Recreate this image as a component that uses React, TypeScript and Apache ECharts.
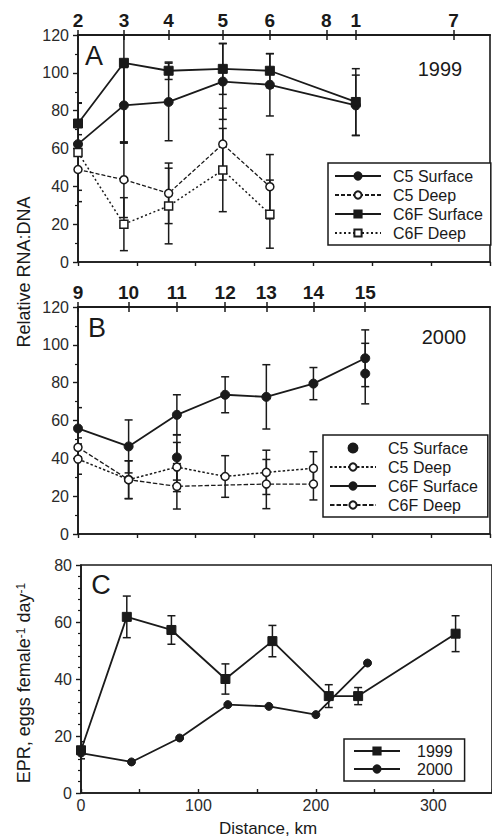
import React, { useEffect, useRef } from 'react';
import * as echarts from 'echarts';

// ---------- stations (top axis labels) ----------
const dist1999 = [0, 39, 77, 123, 163, 211, 236, 319];
const stations1999 = ['2', '3', '4', '5', '6', '8', '1', '7'];
const dist2000 = [0, 43, 84, 125, 160, 200, 244];
const stations2000 = ['9', '10', '11', '12', '13', '14', '15'];

// ---------- Panel A (1999 RNA:DNA) ----------
const aSurfDist = [0, 39, 77, 123, 163, 236];
const aC5Surface = [62.3, 82.8, 84.6, 95.4, 93.7, 82.8];
const aC5SurfaceErr = [5, 20, 20.5, 20, 16.5, 16];
const aC6FSurface = [73.2, 105.3, 101.1, 102.1, 101.1, 84.6];
const aC6FSurfaceErr = [11, 42, 4.6, 13.5, 9, 17.6];
const aDeepDist = [0, 39, 77, 123, 163];
const aC5Deep = [48.9, 43.5, 36.3, 62.3, 39.8];
const aC5DeepErr = [11, 20, 16, 19, 17];
const aC6FDeep = [57.9, 20, 29.6, 48.6, 25.3];
const aC6FDeepErr = [26, 14, 20, 22, 18];

// ---------- Panel B (2000 RNA:DNA) ----------
const bC5SurfaceDist = [84, 244];
const bC5Surface = [40.5, 84.8];
const bC5SurfaceErr = [12, 16];
const bC5DeepDist = [0, 43, 84, 125, 160, 200];
const bC5Deep = [39.6, 28.7, 35.4, 30.4, 32.6, 34.7];
const bC5DeepErr = [8, 10, 13, 11, 11.7, 8.8];
const bC6FSurfaceDist = [0, 43, 84, 125, 160, 200, 244];
const bC6FSurface = [55.8, 46.3, 63, 73.6, 72.5, 79.5, 92.9];
const bC6FSurfaceErr = [11, 14, 10.6, 9.5, 17, 8.5, 15];
const bC6FDeepDist = [0, 43, 84, 160, 200];
const bC6FDeep = [45.8, 28.7, 25.2, 26.4, 26.4];
const bC6FDeepErr = [5, 10, 12, 13, 8.4];

// ---------- Panel C (EPR) ----------
const epr1999 = [15, 61.8, 57.2, 40, 53.3, 34, 34, 55.9];
const epr1999Err = [3, 7.3, 5, 5.3, 5.5, 4, 3, 6.3];
const epr2000 = [14, 10.9, 19.3, 31, 30.4, 27.5, 45.6];

// ---------- tick labels ----------
const rnaTicks = [0, 20, 40, 60, 80, 100, 120];
const eprTicks = [0, 20, 40, 60, 80];
const distLabels = [0, 100, 200, 300];
const distTicks = [0, 50, 100, 150, 200, 250, 300, 350];

const INK = '#1a1a1a';
const FONT = '"Liberation Sans", Arial, Helvetica, sans-serif';

const pairs = (xs: number[], ys: number[]) => xs.map((x, i) => [x, ys[i]]);
const errs = (xs: number[], ys: number[], es: number[]) =>
  xs.map((x, i) => [x, ys[i] - es[i], ys[i] + es[i]]);

function errRender(params: any, api: any) {
  const x = api.value(0);
  const lo = api.value(1);
  const hi = api.value(2);
  const a = api.coord([x, hi]);
  const b = api.coord([x, lo]);
  const w = 4;
  const style = { stroke: INK, lineWidth: 1.5, fill: 'none' };
  return {
    type: 'group',
    children: [
      { type: 'line', shape: { x1: a[0], y1: a[1], x2: b[0], y2: b[1] }, style },
      { type: 'line', shape: { x1: a[0] - w, y1: a[1], x2: a[0] + w, y2: a[1] }, style },
      { type: 'line', shape: { x1: b[0] - w, y1: b[1], x2: b[0] + w, y2: b[1] }, style },
    ],
  };
}

const axisLineStyle = { lineStyle: { color: INK, width: 1.6 } };
const labelStyle = { color: '#2a2a2a', fontSize: 16, fontFamily: FONT };

function bottomAxis(gridIndex: number, showLabels: boolean) {
  return {
    type: 'value',
    gridIndex,
    position: 'bottom',
    min: 0,
    max: 350,
    axisLine: { show: true, onZero: false, ...axisLineStyle },
    axisTick: {
      show: true,
      inside: showLabels,
      length: 4,
      customValues: distTicks,
      lineStyle: { color: INK, width: 1.4 },
    },
    axisLabel: showLabels
      ? { show: true, customValues: distLabels, margin: 4, ...labelStyle }
      : { show: false },
    splitLine: { show: false },
  };
}

function topAxis(gridIndex: number, dists: number[], names: string[], inside: boolean) {
  return {
    type: 'value',
    gridIndex,
    position: 'top',
    min: 0,
    max: 350,
    axisLine: { show: true, onZero: false, ...axisLineStyle },
    axisTick: {
      show: true,
      inside,
      length: 5,
      customValues: dists,
      lineStyle: { color: INK, width: 1.5 },
    },
    axisLabel: inside
      ? { show: false }
      : {
          show: true,
          customValues: dists,
          margin: 5,
          fontSize: 19,
          fontWeight: 'bold',
          color: INK,
          fontFamily: FONT,
          formatter: (v: number) => {
            const i = dists.indexOf(v);
            return i >= 0 ? names[i] : '';
          },
        },
    splitLine: { show: false },
  };
}

function yAxis(gridIndex: number, max: number, ticks: number[], minorSplit: number) {
  return {
    type: 'value',
    gridIndex,
    min: 0,
    max,
    interval: 20,
    axisLine: { show: true, onZero: false, ...axisLineStyle },
    axisTick: { show: true, inside: false, length: 5, lineStyle: { color: INK, width: 1.4 } },
    minorTick: { show: true, splitNumber: minorSplit, length: 3, lineStyle: { color: INK, width: 1.2 } },
    axisLabel: {
      show: true,
      margin: 9,
      ...labelStyle,
      formatter: (v: number) => (ticks.indexOf(v) >= 0 ? String(v) : ''),
    },
    splitLine: { show: false },
    minorSplitLine: { show: false },
  };
}

const filled = { color: INK, borderColor: INK, borderWidth: 1, opacity: 1 };
const open = { color: '#ffffff', borderColor: INK, borderWidth: 1.5, opacity: 1 };

function lineS(name: string, xi: number, yi: number, data: number[][], symbol: string, size: number, item: any, lineType: any, width = 1.8) {
  return {
    type: 'line',
    name,
    xAxisIndex: xi,
    yAxisIndex: yi,
    data,
    symbol,
    symbolSize: size,
    showSymbol: true,
    itemStyle: item,
    lineStyle: { color: INK, width, type: lineType },
    z: 3,
    clip: true,
  };
}

function errS(xi: number, yi: number, data: number[][]) {
  return {
    type: 'custom',
    xAxisIndex: xi,
    yAxisIndex: yi,
    data,
    renderItem: errRender,
    clip: true,
    silent: true,
    z: 2,
  };
}

const stripName = (n: string) => n.split(':')[1];

const legendBase = {
  orient: 'vertical',
  align: 'left',
  backgroundColor: '#ffffff',
  borderColor: INK,
  borderWidth: 1.5,
  borderRadius: 0,
  itemWidth: 46,
  itemHeight: 9,
  selectedMode: false,
  formatter: stripName,
  textStyle: { color: INK, fontSize: 16, fontFamily: FONT, padding: [0, 0, 0, 7] },
};

const option: any = {
  animation: false,
  backgroundColor: '#ffffff',
  grid: [
    { left: 78, top: 35, right: 2, height: 227, show: true, borderColor: INK, borderWidth: 1.6, backgroundColor: 'transparent' },
    { left: 78, top: 307, right: 2, height: 227, show: true, borderColor: INK, borderWidth: 1.6, backgroundColor: 'transparent' },
    { left: 81, top: 565, right: 0, height: 228, show: true, borderColor: INK, borderWidth: 1.6, backgroundColor: 'transparent' },
  ],
  xAxis: [
    bottomAxis(0, false),
    topAxis(0, dist1999, stations1999, false),
    topAxis(0, dist1999, stations1999, true),
    bottomAxis(1, false),
    topAxis(1, dist2000, stations2000, false),
    topAxis(1, dist2000, stations2000, true),
    bottomAxis(2, true),
  ],
  yAxis: [yAxis(0, 120, rnaTicks, 2), yAxis(1, 120, rnaTicks, 2), yAxis(2, 80, eprTicks, 5)],
  legend: [
    {
      ...legendBase,
      left: 328,
      top: 163,
      padding: [5, 8, 4, 6],
      itemGap: 3,
      data: ['A:C5 Surface', 'A:C5 Deep', 'A:C6F Surface', 'A:C6F Deep'],
    },
    {
      ...legendBase,
      left: 323,
      top: 435,
      padding: [5, 10, 4, 6],
      itemGap: 3,
      data: ['B:C5 Surface', 'B:C5 Deep', 'B:C6F Surface', 'B:C6F Deep'],
    },
    {
      ...legendBase,
      left: 344,
      top: 739,
      padding: [4, 12, 4, 9],
      itemGap: 2,
      textStyle: { ...legendBase.textStyle, padding: [0, 0, 0, 12] },
      data: ['C:1999', 'C:2000'],
    },
  ],
  series: [
    // Panel A
    errS(0, 0, [
      ...errs(aSurfDist, aC5Surface, aC5SurfaceErr),
      ...errs(aSurfDist, aC6FSurface, aC6FSurfaceErr),
      ...errs(aDeepDist, aC5Deep, aC5DeepErr),
      ...errs(aDeepDist, aC6FDeep, aC6FDeepErr),
    ]),
    lineS('A:C5 Surface', 0, 0, pairs(aSurfDist, aC5Surface), 'circle', 9, filled, 'solid'),
    lineS('A:C5 Deep', 0, 0, pairs(aDeepDist, aC5Deep), 'circle', 8, open, [4, 2], 1.3),
    lineS('A:C6F Surface', 0, 0, pairs(aSurfDist, aC6FSurface), 'rect', 9, filled, 'solid'),
    lineS('A:C6F Deep', 0, 0, pairs(aDeepDist, aC6FDeep), 'rect', 8, open, [2, 2.5], 1.5),
    // Panel B
    errS(3, 1, [
      ...errs(bC5SurfaceDist, bC5Surface, bC5SurfaceErr),
      ...errs(bC5DeepDist, bC5Deep, bC5DeepErr),
      ...errs(bC6FSurfaceDist, bC6FSurface, bC6FSurfaceErr),
      ...errs(bC6FDeepDist, bC6FDeep, bC6FDeepErr),
    ]),
    {
      type: 'scatter',
      name: 'B:C5 Surface',
      xAxisIndex: 3,
      yAxisIndex: 1,
      data: pairs(bC5SurfaceDist, bC5Surface),
      symbol: 'circle',
      symbolSize: 9,
      itemStyle: filled,
      z: 4,
    },
    lineS('B:C5 Deep', 3, 1, pairs(bC5DeepDist, bC5Deep), 'circle', 8, open, [2.5, 2], 1.5),
    lineS('B:C6F Surface', 3, 1, pairs(bC6FSurfaceDist, bC6FSurface), 'circle', 9, filled, 'solid'),
    lineS('B:C6F Deep', 3, 1, pairs(bC6FDeepDist, bC6FDeep), 'circle', 8, open, [4.5, 2], 1.3),
    // Panel C
    errS(6, 2, errs(dist1999, epr1999, epr1999Err)),
    lineS('C:1999', 6, 2, pairs(dist1999, epr1999), 'rect', 9, filled, 'solid'),
    lineS('C:2000', 6, 2, pairs(dist2000, epr2000), 'circle', 8, filled, 'solid'),
  ],
  graphic: [
    { type: 'text', x: 94, y: 56, style: { text: 'A', fontSize: 27, fontFamily: FONT, fill: INK, textAlign: 'center', textVerticalAlign: 'middle' } },
    { type: 'text', x: 97, y: 328, style: { text: 'B', fontSize: 27, fontFamily: FONT, fill: INK, textAlign: 'center', textVerticalAlign: 'middle' } },
    { type: 'text', x: 101, y: 585, style: { text: 'C', fontSize: 27, fontFamily: FONT, fill: INK, textAlign: 'center', textVerticalAlign: 'middle' } },
    { type: 'text', x: 440, y: 69, style: { text: '1999', fontSize: 20, fontFamily: FONT, fill: INK, textAlign: 'center', textVerticalAlign: 'middle' } },
    { type: 'text', x: 444, y: 337, style: { text: '2000', fontSize: 20, fontFamily: FONT, fill: INK, textAlign: 'center', textVerticalAlign: 'middle' } },
    {
      type: 'text',
      x: 24,
      y: 272,
      rotation: Math.PI / 2,
      style: { text: 'Relative RNA:DNA', fontSize: 18, fontFamily: FONT, fill: INK, textAlign: 'center', textVerticalAlign: 'middle' },
    },
    {
      type: 'text',
      x: 24,
      y: 683,
      rotation: Math.PI / 2,
      style: {
        text: 'EPR, eggs female{s|-1} day{s|-1}',
        fontSize: 18,
        fontFamily: FONT,
        fill: INK,
        textAlign: 'center',
        textVerticalAlign: 'middle',
        rich: { s: { fontSize: 12, fontFamily: FONT, fill: INK, verticalAlign: 'top', lineHeight: 18 } },
      },
    },
    { type: 'text', x: 268, y: 828, style: { text: 'Distance, km', fontSize: 17, fontFamily: FONT, fill: INK, textAlign: 'center', textVerticalAlign: 'middle' } },
  ],
};

export default function App() {
  const ref = useRef<HTMLDivElement>(null);
  useEffect(() => {
    if (!ref.current) return;
    const chart = echarts.init(ref.current, null, { renderer: 'svg' });
    chart.setOption(option);
    return () => chart.dispose();
  }, []);
  return (
    <div
      ref={ref}
      style={{ position: 'fixed', left: 0, top: 0, width: 492, height: 839, background: '#ffffff' }}
    />
  );
}
